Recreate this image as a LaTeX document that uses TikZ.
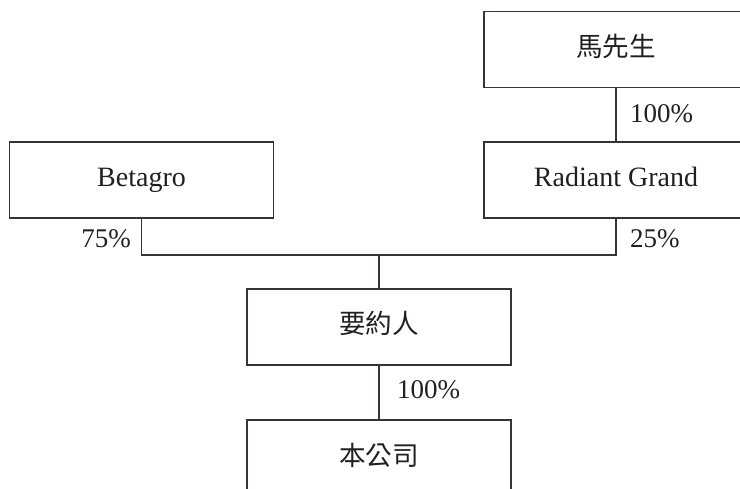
\documentclass[tikz,border=0pt]{standalone}
\usepackage{fontspec}
\setmainfont{Liberation Serif}
\newfontfamily\cjk{Noto Sans CJK TC}[Scale=0.95]
\definecolor{ink}{HTML}{231F20}
\definecolor{edge}{HTML}{3A3334}
\begin{document}
\begin{tikzpicture}[x=1pt,y=-1pt,
  box/.style={draw=edge,line width=1.3pt,minimum width=264pt,minimum height=76pt,inner sep=0pt,text=ink,font=\fontsize{28}{32}\selectfont,text height=18pt,text depth=4pt},
  conn/.style={draw=edge,line width=1.3pt},
  pct/.style={text=ink,font=\fontsize{27}{31}\selectfont,inner sep=0pt,text height=18pt,text depth=4pt}]
\useasboundingbox (0,0) rectangle (740,489);
\node[box] (ma) at (616,49.5) {\cjk 馬先生};
\node[box] (rg) at (616,180) {Radiant Grand};
\node[box] (bg) at (141.5,180) {Betagro};
\node[box] (yy) at (379,327) {\cjk 要約人};
\node[box] (bc) at (379,458) {\cjk 本公司};
\coordinate (j) at (379,255);
\draw[conn] (ma.south) -- (rg.north);
\draw[conn] (bg.south) |- (j) -| (rg.south);
\draw[conn] (j) -- (yy.north);
\draw[conn] (yy.south) -- (bc.north);
\node[pct,anchor=west] (p1) at (630,116) {100\%};
\node[pct,anchor=east] (p2) at (131,241) {75\%};
\node[pct,anchor=west] (p3) at (630,241) {25\%};
\node[pct,anchor=west] (p4) at (397,392) {100\%};
\end{tikzpicture}
\end{document}
